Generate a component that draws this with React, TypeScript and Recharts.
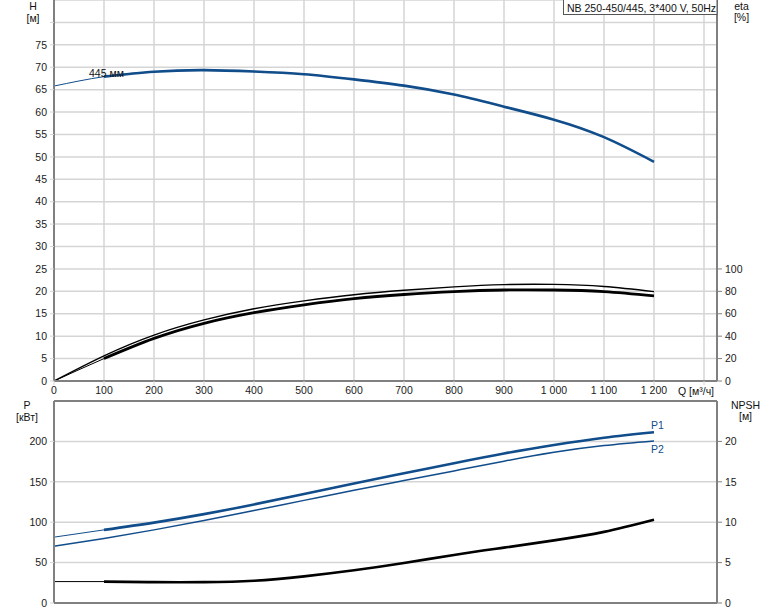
import React from 'react';
import { LineChart, Line, XAxis, YAxis, CartesianGrid, ReferenceLine } from 'recharts';

// ---- data ----
const flowQ = [0, 100, 200, 300, 400, 500, 600, 700, 800, 900, 1000, 1100, 1200];
const headH = [65.8, 67.9, 69.0, 69.35, 69.05, 68.45, 67.3, 65.9, 63.9, 61.2, 58.3, 54.4, 48.9];
const etaUpper = [0, 22.5, 41, 54.5, 64.5, 71.5, 77, 81, 84, 86, 86.2, 84.3, 79.8];
const etaLower = [0, 20, 38, 51.5, 61, 68, 73.5, 77.2, 79.8, 81.2, 81.2, 79.8, 76];
const powerP1 = [81.5, 90.5, 99.5, 110, 122, 135, 148, 160.5, 173, 185, 195.5, 204.5, 211.3];
const powerP2 = [70.2, 79.8, 90.5, 102, 114.5, 127, 139.5, 151.5, 163.5, 175.5, 186.5, 194.8, 200.5];
const npshR = [2.65, 2.65, 2.58, 2.58, 2.75, 3.3, 4.05, 4.95, 5.95, 6.85, 7.75, 8.8, 10.3];
const dutyStartQ = 100;

const xTicks = [0, 100, 200, 300, 400, 500, 600, 700, 800, 900, 1000, 1100, 1200, 1300];
const hTicks = [0, 5, 10, 15, 20, 25, 30, 35, 40, 45, 50, 55, 60, 65, 70, 75, 80];
const etaTicks = [0, 20, 40, 60, 80, 100];
const pTicks = [0, 50, 100, 150, 200];
const npshTicks = [0, 5, 10, 15, 20];

const FONT = 'Arial, "Liberation Sans", sans-serif';
const BLUE = '#114d8b';
const GRID = '#d5d5d5';
const AXIS = '#808080';
const FS = 10.5;

const topData = flowQ.map((q, i) => ({
  q,
  h: headH[i],
  hDuty: q >= dutyStartQ ? headH[i] : null,
  etaU: etaUpper[i],
  etaL: etaLower[i],
  etaLDuty: q >= dutyStartQ ? etaLower[i] : null,
}));

const botData = flowQ.map((q, i) => ({
  q,
  p1: powerP1[i],
  p1Duty: q >= dutyStartQ ? powerP1[i] : null,
  p2: powerP2[i],
  npsh: npshR[i],
  npshDuty: q >= dutyStartQ ? npshR[i] : null,
}));

const fmtQ = (v: number) => {
  if (v === 1300) return '';
  if (v >= 1000) return `${Math.floor(v / 1000)} ${String(v % 1000).padStart(3, '0')}`;
  return String(v);
};

const tickStyle = { fill: '#1a1a1a', fontSize: FS, fontFamily: FONT };
const CURVE = 'natural' as const;

export default function App() {
  return (
    <div style={{ position: 'absolute', left: 0, top: 0, width: 774, height: 611, background: '#fff', fontFamily: FONT }}>
      <div style={{ position: 'absolute', left: 0, top: 0 }}>
        <LineChart width={774} height={395} data={topData} margin={{ top: 0, right: 0, left: 0, bottom: 0 }}>
          <CartesianGrid yAxisId="h" stroke={GRID} strokeWidth={1.5} />
          <XAxis
            dataKey="q"
            type="number"
            domain={[0, 1326]}
            ticks={xTicks}
            interval={0}
            allowDataOverflow
            tickFormatter={fmtQ}
            height={14}
            axisLine={{ stroke: AXIS, strokeWidth: 2 }}
            tickLine={{ stroke: GRID }}
            tickSize={4}
            tickMargin={2}
            tick={tickStyle}
          />
          <YAxis
            yAxisId="h"
            domain={[0, 85]}
            ticks={hTicks}
            interval={0}
            allowDataOverflow
            tickFormatter={(v: number) => (v === 80 ? '' : String(v))}
            width={54}
            axisLine={{ stroke: AXIS, strokeWidth: 2 }}
            tickLine={{ stroke: GRID }}
            tickSize={4}
            tickMargin={3}
            tick={tickStyle}
          />
          <YAxis
            yAxisId="eta"
            orientation="right"
            domain={[0, 340]}
            ticks={etaTicks}
            interval={0}
            allowDataOverflow
            width={57}
            axisLine={{ stroke: AXIS, strokeWidth: 2 }}
            tickLine={{ stroke: AXIS }}
            tickSize={5}
            tickMargin={3}
            tick={tickStyle}
          />
          <Line yAxisId="h" dataKey="h" type={CURVE} stroke={BLUE} strokeWidth={1} dot={false} isAnimationActive={false} />
          <Line yAxisId="h" dataKey="hDuty" type={CURVE} stroke={BLUE} strokeWidth={2.6} dot={false} isAnimationActive={false} />
          <Line yAxisId="eta" dataKey="etaU" type={CURVE} stroke="#000" strokeWidth={1.4} dot={false} isAnimationActive={false} />
          <Line yAxisId="eta" dataKey="etaL" type={CURVE} stroke="#000" strokeWidth={1} dot={false} isAnimationActive={false} />
          <Line yAxisId="eta" dataKey="etaLDuty" type={CURVE} stroke="#000" strokeWidth={2.8} dot={false} isAnimationActive={false} />
        </LineChart>
      </div>

      <div style={{ position: 'absolute', left: 0, top: 0 }}>
        <LineChart width={774} height={611} data={botData} margin={{ top: 401, right: 0, left: 0, bottom: 0 }}>
          <CartesianGrid yAxisId="p" stroke={GRID} strokeWidth={1.5} />
          <XAxis
            dataKey="q"
            type="number"
            domain={[0, 1326]}
            ticks={xTicks}
            interval={0}
            allowDataOverflow
            height={8}
            tick={false}
            tickLine={false}
            axisLine={{ stroke: AXIS, strokeWidth: 2 }}
          />
          <YAxis
            yAxisId="p"
            domain={[0, 250]}
            ticks={pTicks}
            interval={0}
            allowDataOverflow
            width={54}
            axisLine={{ stroke: AXIS, strokeWidth: 2 }}
            tickLine={{ stroke: GRID }}
            tickSize={4}
            tickMargin={3}
            tick={tickStyle}
          />
          <YAxis
            yAxisId="npsh"
            orientation="right"
            domain={[0, 25]}
            ticks={npshTicks}
            interval={0}
            allowDataOverflow
            width={57}
            axisLine={{ stroke: AXIS, strokeWidth: 2 }}
            tickLine={{ stroke: AXIS }}
            tickSize={5}
            tickMargin={3}
            tick={tickStyle}
          />
          <ReferenceLine yAxisId="p" y={250} stroke={AXIS} strokeWidth={2} />
          <Line yAxisId="p" dataKey="p2" type={CURVE} stroke={BLUE} strokeWidth={1.5} dot={false} isAnimationActive={false} />
          <Line yAxisId="p" dataKey="p1" type={CURVE} stroke={BLUE} strokeWidth={1} dot={false} isAnimationActive={false} />
          <Line yAxisId="p" dataKey="p1Duty" type={CURVE} stroke={BLUE} strokeWidth={2.6} dot={false} isAnimationActive={false} />
          <Line yAxisId="npsh" dataKey="npsh" type={CURVE} stroke="#000" strokeWidth={1} dot={false} isAnimationActive={false} />
          <Line yAxisId="npsh" dataKey="npshDuty" type={CURVE} stroke="#000" strokeWidth={2.6} dot={false} isAnimationActive={false} />
        </LineChart>
      </div>

      <svg width={774} height={611} style={{ position: 'absolute', left: 0, top: 0, pointerEvents: 'none' }} fontFamily={FONT} fontSize={FS}>
        <rect x={563.5} y={-1} width={153.5} height={15.5} fill="#fff" stroke="#555" strokeWidth={1} />
        <text x={567} y={7.5} dominantBaseline="central" fill="#111">NB 250-450/445, 3*400 V, 50Hz</text>
        <text x={33} y={6} textAnchor="middle" dominantBaseline="central" fill="#111">H</text>
        <text x={33} y={18} textAnchor="middle" dominantBaseline="central" fill="#111">[м]</text>
        <text x={741.5} y={5.5} textAnchor="middle" dominantBaseline="central" fill="#111">eta</text>
        <text x={741.5} y={17} textAnchor="middle" dominantBaseline="central" fill="#111">[%]</text>
        <text x={27} y={405} textAnchor="middle" dominantBaseline="central" fill="#111">P</text>
        <text x={27} y={416.5} textAnchor="middle" dominantBaseline="central" fill="#111">[кВт]</text>
        <text x={745.5} y={404.5} textAnchor="middle" dominantBaseline="central" fill="#111">NPSH</text>
        <text x={745.5} y={415.5} textAnchor="middle" dominantBaseline="central" fill="#111">[м]</text>
        <text x={678} y={391} dominantBaseline="central" fill="#111">Q [м³/ч]</text>
        <text x={89} y={73} dominantBaseline="central" fill="#111">445 мм</text>
        <text x={651} y={425} dominantBaseline="central" fill={BLUE}>P1</text>
        <text x={651} y={448.5} dominantBaseline="central" fill={BLUE}>P2</text>
      </svg>
    </div>
  );
}
